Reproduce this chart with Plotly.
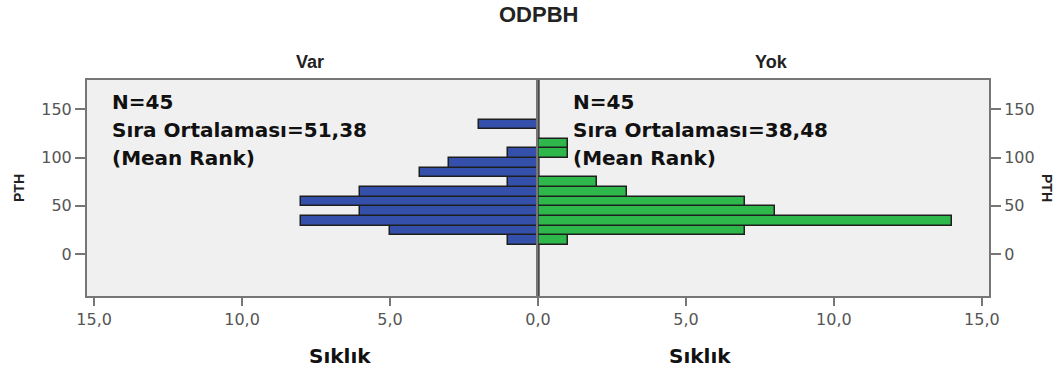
import plotly.graph_objects as go

# PTH histogram by ODPBH group (SPSS-style population pyramid)
pth_bin_centers = [14.5, 24.5, 34.5, 44.5, 54.5, 64.5, 74.5, 84.5, 94.5, 104.5, 114.5, 124.5, 134.5]
bin_width = 10
var_counts = [1, 5, 8, 6, 8, 6, 1, 4, 3, 1, 0, 0, 2]
yok_counts = [1, 7, 14, 8, 7, 3, 2, 0, 0, 1, 1, 0, 0]

groups = ["Var", "Yok"]
group_n = [45, 45]
mean_ranks = [51.38, 38.48]

x_tick_vals = [0, 5, 10, 15]
x_tick_text = ["0,0", "5,0", "10,0", "15,0"]
y_tick_vals = [0, 50, 100, 150]
y_tick_text = ["0", "50", "100", "150"]

W, H = 1064, 372
left_px, mid_px, right_px = 87, 538, 989
top_px, bottom_px = 80, 296


def px_x(p):
    return p / W


def px_y(p):
    return 1 - p / H


def nz(vals):
    return [v if v else None for v in vals]


BLUE = "#3550AA"
GREEN = "#2EB84B"
OUTLINE = "#1E1E1E"
FRAME = "#767676"
TICK_FONT = dict(family="DejaVu Sans", size=16, color="#555555")
BOLD_FONT = "DejaVu Sans"
NARROW_FONT = "Liberation Sans"

fig = go.Figure()
fig.add_trace(go.Bar(
    y=pth_bin_centers, x=nz(var_counts), orientation="h", width=bin_width,
    marker=dict(color=BLUE, line=dict(color=OUTLINE, width=1.5)),
    xaxis="x", yaxis="y", showlegend=False,
))
fig.add_trace(go.Bar(
    y=pth_bin_centers, x=nz(yok_counts), orientation="h", width=bin_width,
    marker=dict(color=GREEN, line=dict(color=OUTLINE, width=1.5)),
    xaxis="x2", yaxis="y2", showlegend=False,
))

x_max = 15.24
y_range = [-43.6, 180.5]
ydom = [px_y(bottom_px), px_y(top_px)]

axis_common = dict(
    showline=True, linecolor=FRAME, linewidth=2, mirror=True,
    showgrid=False, zeroline=False, ticks="outside", tickcolor=FRAME,
    tickwidth=2, tickfont=TICK_FONT, automargin=False,
)

fig.update_layout(
    width=W, height=H,
    margin=dict(l=0, r=0, t=0, b=0),
    paper_bgcolor="white", plot_bgcolor="#F0F0F0",
    bargap=0,
    xaxis=dict(
        domain=[px_x(left_px), px_x(mid_px)], range=[x_max, 0], anchor="y",
        tickvals=x_tick_vals, ticktext=x_tick_text, ticklen=8, **axis_common,
    ),
    xaxis2=dict(
        domain=[px_x(mid_px), px_x(right_px)], range=[0, x_max], anchor="y2",
        tickvals=x_tick_vals[1:], ticktext=x_tick_text[1:], ticklen=8, **axis_common,
    ),
    yaxis=dict(
        domain=ydom, range=y_range, anchor="x", side="left",
        tickvals=y_tick_vals, ticktext=y_tick_text, ticklen=10, **axis_common,
    ),
    yaxis2=dict(
        domain=ydom, range=y_range, anchor="x2", side="right",
        tickvals=y_tick_vals, ticktext=y_tick_text, ticklen=10, **axis_common,
    ),
)

# divider between the two panels
fig.add_shape(type="line", xref="x2", yref="paper", x0=0, x1=0,
              y0=ydom[0], y1=ydom[1], line=dict(color="#3C3C3C", width=1.5),
              layer="above")

ann = []
# main title and panel headers
ann.append(dict(text="<b>ODPBH</b>", x=px_x(538), y=px_y(15), xref="paper", yref="paper",
                showarrow=False, font=dict(family=NARROW_FONT, size=22, color="#222222"),
                xanchor="center", yanchor="middle"))
for name, cx in zip(groups, [310, 771]):
    ann.append(dict(text=f"<b>{name}</b>", x=px_x(cx), y=px_y(62), xref="paper", yref="paper",
                    showarrow=False, font=dict(family=NARROW_FONT, size=18, color="#222222"),
                    xanchor="center", yanchor="middle"))

# group statistics inside each panel
for n, mr, tx in zip(group_n, mean_ranks, [110, 571]):
    lines = [f"N={n}", "Sıra Ortalaması=" + f"{mr:.2f}".replace(".", ","), "(Mean Rank)"]
    for line, cy in zip(lines, [102, 130, 158]):
        ann.append(dict(text=f"<b>{line}</b>", x=px_x(tx), y=px_y(cy), xref="paper", yref="paper",
                        showarrow=False, font=dict(family=BOLD_FONT, size=20, color="#111111"),
                        xanchor="left", yanchor="middle"))

# axis titles
for cx in [340, 700]:
    ann.append(dict(text="<b>Sıklık</b>", x=px_x(cx), y=px_y(356), xref="paper", yref="paper",
                    showarrow=False, font=dict(family=BOLD_FONT, size=20, color="#111111"),
                    xanchor="center", yanchor="middle"))
ann.append(dict(text="<b>PTH</b>", x=px_x(19), y=px_y(188), xref="paper", yref="paper",
                showarrow=False, textangle=-90,
                font=dict(family=NARROW_FONT, size=14, color="#222222"),
                xanchor="center", yanchor="middle"))
ann.append(dict(text="<b>PTH</b>", x=px_x(1047), y=px_y(188), xref="paper", yref="paper",
                showarrow=False, textangle=90,
                font=dict(family=NARROW_FONT, size=14, color="#222222"),
                xanchor="center", yanchor="middle"))

fig.update_layout(annotations=ann)
fig.write_html("out.html")
